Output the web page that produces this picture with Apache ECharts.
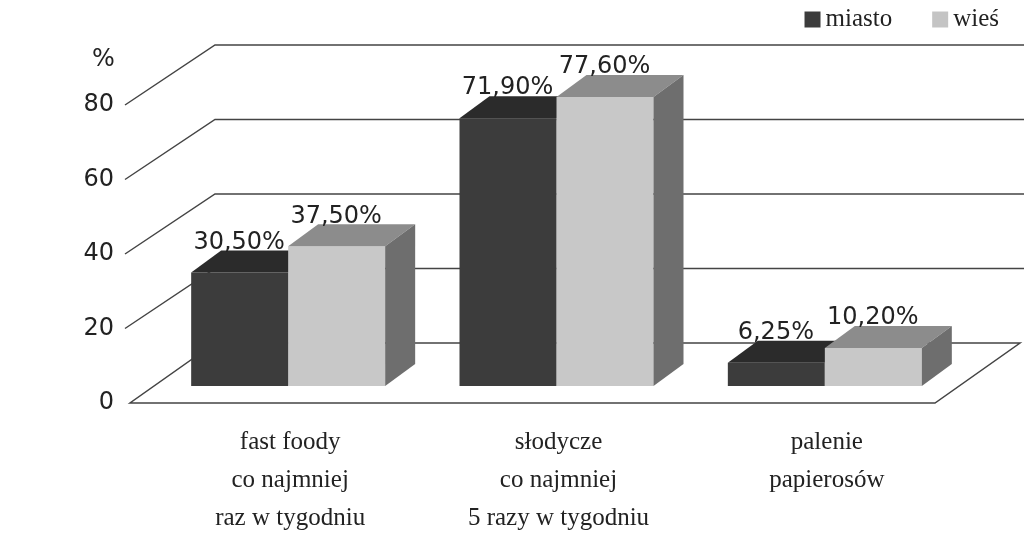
<!DOCTYPE html>
<html>
<head>
<meta charset="utf-8">
<title>ECharts</title>
<script src="https://cdn.jsdelivr.net/npm/echarts@6/dist/echarts.min.js"></script>
</head>
<body style="margin:0">
<div id="main" style="width:1024px;height:537px;"></div>
<script type="text/javascript">
var categories = ['fast foody\nco najmniej\nraz w tygodniu', 'słodycze\nco najmniej\n5 razy w tygodniu', 'palenie\npapierosów'];
var miasto = [30.5, 71.9, 6.25];
var wies = [37.5, 77.6, 10.2];
var labelsMiasto = ['30,50%', '71,90%', '6,25%'];
var labelsWies = ['37,50%', '77,60%', '10,20%'];
var yTicks = [0, 20, 40, 60, 80];

var myChart = echarts.init(document.getElementById('main'));

// depth of the wall and of the bars (px)
var WX = 85, WY = -60, OX = 24, OY = -17, DX = 30, DY = -22, BW = 97;

function barRender(isWies, colors, labels) {
	return function(params, api) {
		var i = api.value(0);
		var base = api.coord([i, 0]);
		var top = api.coord([i, api.value(1)]);
		var c = base[0] + OX;
		var x1 = isWies ? c : c - BW, x2 = x1 + BW;
		var yb = base[1] + OY, yt = top[1] + OY;
		return {
			type: 'group',
			children: [
				{type: 'rect', shape: {x: x1, y: yt, width: BW, height: yb - yt}, style: {fill: colors[0]}},
				{type: 'polygon', shape: {points: [[x1, yt], [x2, yt], [x2 + DX, yt + DY], [x1 + DX, yt + DY]]}, style: {fill: colors[1]}},
				{type: 'polygon', shape: {points: [[x2, yt], [x2 + DX, yt + DY], [x2 + DX, yb + DY], [x2, yb]]}, style: {fill: colors[2]}},
				{type: 'text', x: x1 + 48, y: yt + DY + 4, style: {text: labels[i], font: '24px "DejaVu Sans"', fill: '#222', align: 'center', verticalAlign: 'bottom'}}
			]
		};
	};
}

function wallRender(params, api) {
	var cs = params.coordSys;
	var x0 = cs.x, x1 = cs.x + cs.width;
	var ch = [];
	var y0 = api.coord([0, 0])[1];
	ch.push({type: 'polygon', shape: {points: [[x0, y0], [x1, y0], [x1 + WX, y0 + WY], [x0 + WX, y0 + WY]]}, style: {fill: '#fff', stroke: '#444', lineWidth: 1.5}});
	for (var k = 1; k < yTicks.length; k++) {
		var y = api.coord([0, yTicks[k]])[1];
		ch.push({type: 'polyline', shape: {points: [[x0 - 5, y], [x0 + WX, y + WY], [1024, y + WY]]}, style: {stroke: '#444', lineWidth: 1.5, fill: null}});
	}
	return {type: 'group', children: ch};
}

var option = {
	animation: false,
	grid: {left: 130, right: 89, top: 105, bottom: 132},
	legend: {
		right: 20, top: 2, icon: 'rect', itemWidth: 16, itemHeight: 16, itemGap: 40,
		textStyle: {fontFamily: 'Liberation Serif', fontSize: 25, color: '#222'},
		data: [{name: 'miasto', itemStyle: {color: '#3c3c3c'}}, {name: 'wieś', itemStyle: {color: '#c4c4c4'}}]
	},
	graphic: [{type: 'text', left: 92, top: 48, style: {text: '%', font: '24px "DejaVu Sans"', fill: '#222'}}],
	xAxis: {
		type: 'category', data: categories,
		axisLine: {show: false}, axisTick: {show: false},
		axisLabel: {fontFamily: 'Liberation Serif', fontSize: 25, color: '#222', lineHeight: 38, margin: 20, padding: [0, 0, 0, 52]}
	},
	yAxis: {
		type: 'value', min: 0, max: 80, interval: 20,
		splitLine: {show: false}, axisLine: {show: false}, axisTick: {show: false},
		axisLabel: {fontFamily: 'DejaVu Sans', fontSize: 24, color: '#222', margin: 16}
	},
	series: [
		{type: 'custom', name: 'walls', data: [[0, 0]], renderItem: wallRender, silent: true, z: 1},
		{type: 'custom', name: 'miasto', itemStyle: {color: '#3c3c3c'}, data: miasto.map(function(v, i) { return [i, v]; }),
			renderItem: barRender(false, ['#3c3c3c', '#2b2b2b', '#505050'], labelsMiasto), z: 2},
		{type: 'custom', name: 'wieś', itemStyle: {color: '#c4c4c4'}, data: wies.map(function(v, i) { return [i, v]; }),
			renderItem: barRender(true, ['#c8c8c8', '#8c8c8c', '#6e6e6e'], labelsWies), z: 2}
	]
};
myChart.setOption(option);
</script>
</body>
</html>
